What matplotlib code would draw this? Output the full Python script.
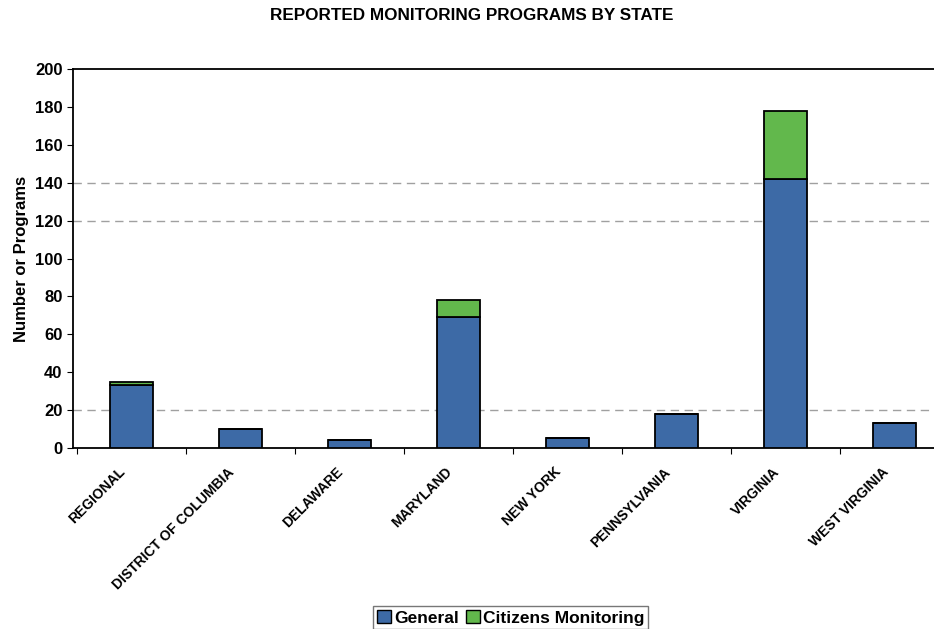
import matplotlib
matplotlib.use("Agg")
import matplotlib.pyplot as plt
from matplotlib.patches import Patch

plt.rcParams["font.family"] = ["Liberation Sans", "DejaVu Sans"]

states = ["REGIONAL", "DISTRICT OF COLUMBIA", "DELAWARE", "MARYLAND",
          "NEW YORK", "PENNSYLVANIA", "VIRGINIA", "WEST VIRGINIA"]
general = [33, 10, 4, 69, 5, 18, 142, 13]
citizens = [2, 0, 0, 9, 0, 0, 36, 0]
grid_levels = [20, 120, 140]
yticks = [0, 20, 40, 60, 80, 100, 120, 140, 160, 180, 200]

blue = "#3d6aa6"
green = "#62b84c"

fig = plt.figure(figsize=(9.34, 6.29), dpi=100)
ax = fig.add_axes([0.078, 0.288, 0.938, 0.602])

x = list(range(len(states)))
ax.bar(x, general, width=0.4, color=blue, edgecolor="black", linewidth=1.3, zorder=3)
ax.bar(x, citizens, width=0.4, bottom=general, color=green, edgecolor="black",
       linewidth=1.3, zorder=3)

for g in grid_levels:
    ax.axhline(g, color="#a0a0a0", linestyle=(0, (6, 4)), linewidth=1, zorder=1)

ax.set_xlim(-0.537, 7.5)
ax.set_ylim(0, 200)
ax.set_yticks(yticks)
ax.set_yticklabels([str(v) for v in yticks], fontsize=12, fontweight="bold")
ax.set_xticks([i + 0.5 for i in range(-1, len(states))])
ax.set_xticklabels([])
ax.tick_params(axis="x", length=4, direction="out")
ax.tick_params(axis="y", length=4, direction="out")
for i, s in enumerate(states):
    ax.text(i - 0.12, -9, s, rotation=45, ha="right", va="top", fontsize=10,
            fontweight="bold", rotation_mode="anchor")

ax.set_ylabel("Number or Programs", fontsize=12, fontweight="bold")
for sp in ["top", "left", "bottom", "right"]:
    ax.spines[sp].set_linewidth(1.3)

fig.text(0.505, 0.975, "REPORTED MONITORING PROGRAMS BY STATE", ha="center",
         va="center", fontsize=12.3, fontweight="bold")

handles = [Patch(facecolor=blue, edgecolor="black", label="General"),
           Patch(facecolor=green, edgecolor="black", label="Citizens Monitoring")]
fig.legend(handles=handles, loc="center", bbox_to_anchor=(0.547, 0.018), ncol=2,
           frameon=True, fancybox=False, edgecolor="#555555",
           prop={"weight": "bold", "size": 12.5}, handlelength=0.8, handleheight=0.8,
           handletextpad=0.2, columnspacing=0.4, borderpad=0.2)

fig.savefig("out.png", dpi=100)
